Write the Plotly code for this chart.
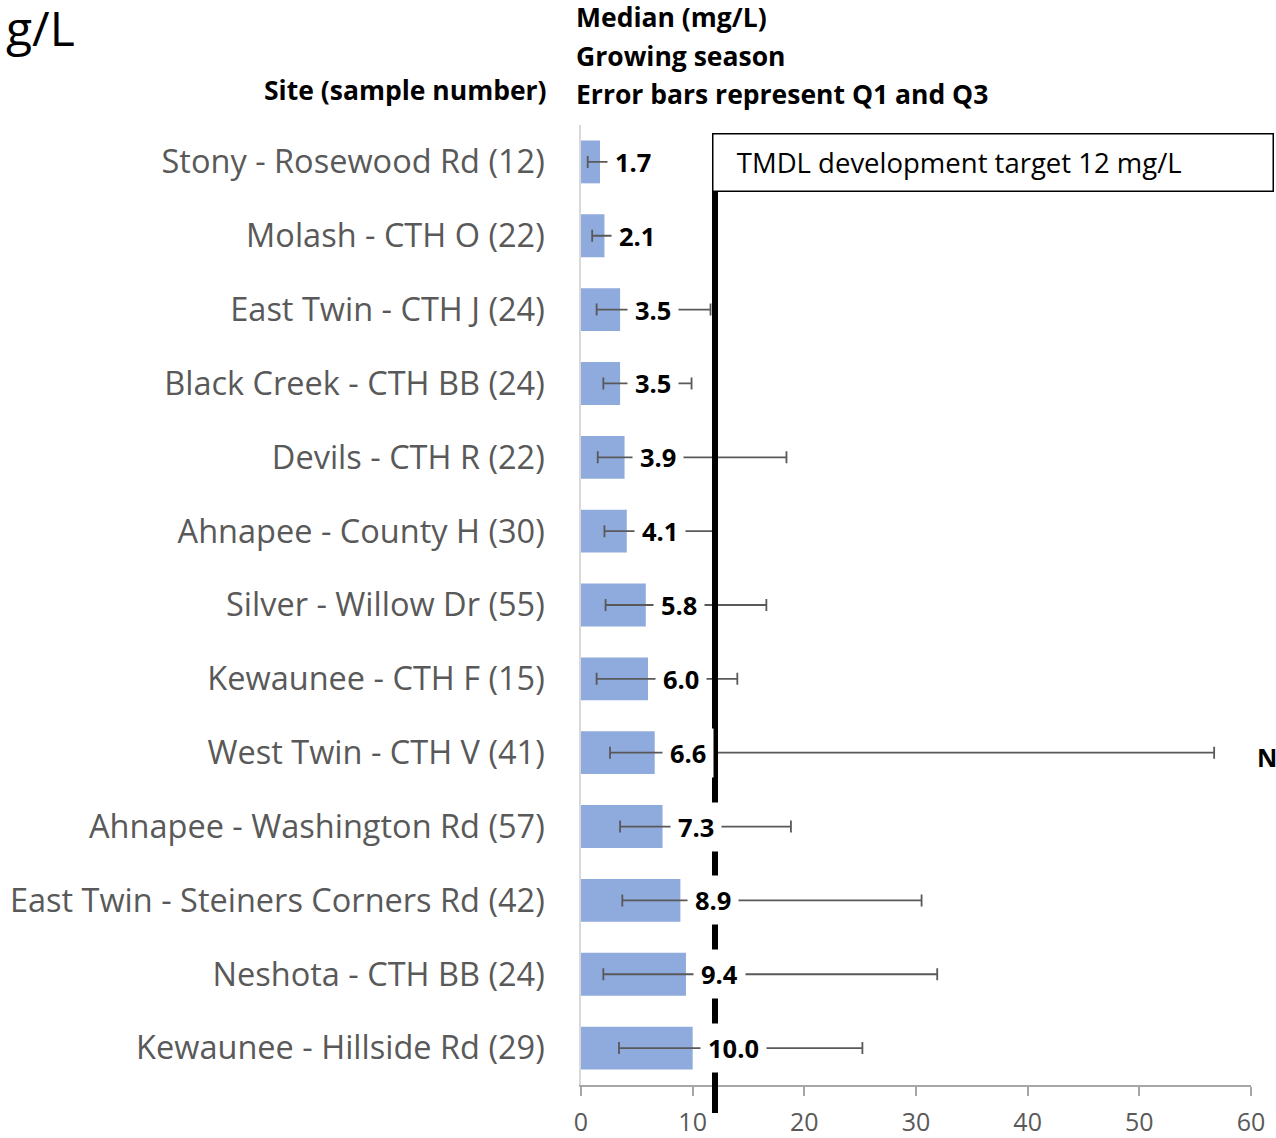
import plotly.graph_objects as go

# Sites, top to bottom
sites = [
    "Stony - Rosewood Rd (12)",
    "Molash - CTH O (22)",
    "East Twin - CTH J (24)",
    "Black Creek - CTH BB (24)",
    "Devils - CTH R (22)",
    "Ahnapee - County H (30)",
    "Silver - Willow Dr (55)",
    "Kewaunee - CTH F (15)",
    "West Twin - CTH V (41)",
    "Ahnapee - Washington Rd (57)",
    "East Twin - Steiners Corners Rd (42)",
    "Neshota - CTH BB (24)",
    "Kewaunee - Hillside Rd (29)",
]
# Growing-season median, first and third quartile (mg/L)
median = [1.7, 2.1, 3.5, 3.5, 3.9, 4.1, 5.8, 6.0, 6.6, 7.3, 8.9, 9.4, 10.0]
q1 = [0.6, 1.0, 1.4, 2.0, 1.5, 2.1, 2.2, 1.4, 2.6, 3.5, 3.7, 2.0, 3.4]
q3 = [4.0, 4.5, 11.6, 9.9, 18.4, 11.9, 16.6, 14.0, 56.7, 18.8, 30.5, 31.9, 25.2]
x_ticks = [0, 10, 20, 30, 40, 50, 60]
TARGET = 12

W, H = 1276, 1138
L, R, T, B = 581, 25, 125, 53
PW, PH = W - L - R, H - T - B


def px_x(p):
    return (p - L) / PW


def px_y(p):
    return (H - B - p) / PH


FONT = "Open Sans"
GRAY = "#595959"

fig = go.Figure()
fig.add_trace(go.Bar(
    x=median, y=sites, orientation="h",
    marker=dict(color="#8FAADC", line=dict(width=0)),
    width=0.58,
    error_x=dict(
        type="data", symmetric=False,
        array=[b - m for b, m in zip(q3, median)],
        arrayminus=[m - a for m, a in zip(median, q1)],
        color=GRAY, thickness=1.8, width=6,
    ),
    hoverinfo="skip",
))

annotations = []
# Value labels on a white box so they mask the lines behind them
for s, m in zip(sites, median):
    annotations.append(dict(
        x=m, y=s, xref="x", yref="y", text=f"<b>{m:.1f}</b>",
        showarrow=False, xanchor="left", yanchor="middle", xshift=7,
        bgcolor="white", borderpad=7,
        font=dict(family=FONT, size=25.5, color="black"),
    ))

# Target box
annotations.append(dict(
    x=TARGET, y=px_y(162), xref="x", yref="paper",
    text=f"&nbsp;&nbsp;TMDL development target {TARGET} mg/L",
    showarrow=False, xanchor="left", yanchor="middle", xshift=-3,
    align="left", width=541, height=38, borderpad=9,
    bgcolor="white", bordercolor="black", borderwidth=1.5,
    font=dict(family=FONT, size=27.5, color="black"),
))

# Header texts
for txt, yp in [("Median (mg/L)", 17), ("Growing season", 56),
                ("Error bars represent Q1 and Q3", 94)]:
    annotations.append(dict(
        x=px_x(574), y=px_y(yp), xref="paper", yref="paper",
        text=f"<b>{txt}</b>", showarrow=False, xanchor="left", yanchor="middle",
        font=dict(family=FONT, size=26.5, color="black"),
    ))
annotations.append(dict(
    x=px_x(549), y=px_y(90), xref="paper", yref="paper",
    text="<b>Site (sample number)</b>", showarrow=False,
    xanchor="right", yanchor="middle",
    font=dict(family=FONT, size=26.5, color="black"),
))
annotations.append(dict(
    x=px_x(4), y=px_y(27), xref="paper", yref="paper",
    text="g/L", showarrow=False, xanchor="left", yanchor="middle",
    font=dict(family=FONT, size=48, color="black"),
))
annotations.append(dict(
    x=px_x(1255), y=px_y(757), xref="paper", yref="paper",
    text="<b>N</b>", showarrow=False, xanchor="left", yanchor="middle",
    font=dict(family=FONT, size=25, color="black"),
))

fig.update_layout(
    width=W, height=H,
    margin=dict(l=L, r=R, t=T, b=B, pad=0, autoexpand=False),
    paper_bgcolor="white", plot_bgcolor="white",
    showlegend=False,
    bargap=0.42,
    annotations=annotations,
    shapes=[dict(
        type="line", xref="x", yref="paper",
        x0=TARGET, x1=TARGET, y0=px_y(1113), y1=px_y(192),
        line=dict(color="black", width=6), layer="above",
    )],
    xaxis=dict(
        range=[0, 60], tickvals=x_ticks, ticktext=[str(v) for v in x_ticks],
        showgrid=False, zeroline=False, automargin=False,
        showline=True, linecolor="#A6A6A6", linewidth=1.5,
        ticks="outside", ticklen=9, tickcolor="#A6A6A6", tickwidth=1.5,
        ticklabelstandoff=5,
        tickfont=dict(family=FONT, size=25, color=GRAY),
        fixedrange=True,
    ),
    yaxis=dict(
        categoryorder="array", categoryarray=sites, autorange="reversed",
        showgrid=False, zeroline=False, automargin=False,
        showline=True, linecolor="#D9D9D9", linewidth=1.5,
        ticks="", ticklabelstandoff=28,
        tickfont=dict(family=FONT, size=32.5, color=GRAY),
        fixedrange=True,
    ),
)

fig.write_html("out.html")
